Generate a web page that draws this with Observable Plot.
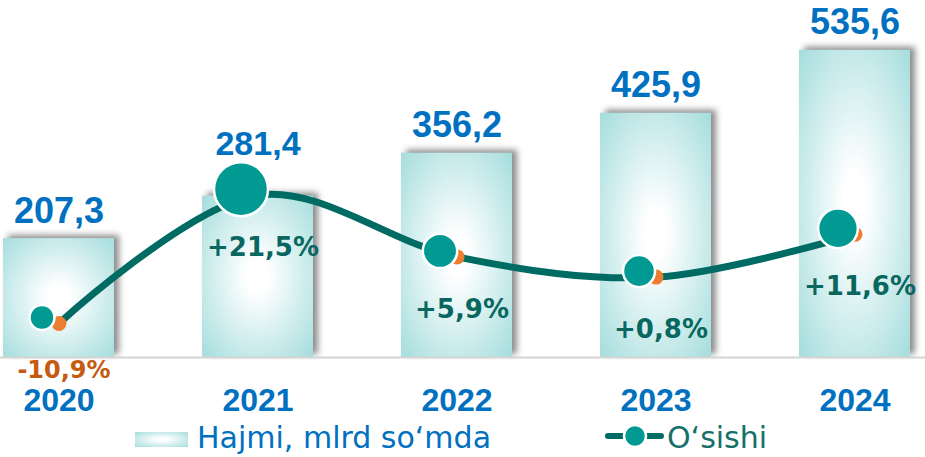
<!DOCTYPE html>
<html>
<head>
<meta charset="utf-8">
<script src="https://cdn.jsdelivr.net/npm/d3@7"></script>
<script src="https://cdn.jsdelivr.net/npm/@observablehq/plot@0.6"></script>
<style>
  body { margin: 0; background: #ffffff; }
  #chart svg, #legend svg { display: block; }
  #chart g[aria-label="bar"] rect { filter: drop-shadow(5px -3px 3px rgba(0,0,0,0.45)); }
</style>
</head>
<body>
<div id="chart"></div>
<div id="legend"></div>
<script>
// ---- data ----
const years = ["2020", "2021", "2022", "2023", "2024"];
const volume = [207.3, 281.4, 356.2, 425.9, 535.6];   // Hajmi, mlrd so‘mda
const growth = [-10.9, 21.5, 5.9, 0.8, 11.6];        // O‘sishi, %
const volumeAxis = [0, 600];                          // primary axis domain
const growthAxis = [-19.5, 67.4];                     // secondary axis domain
const seriesNames = ["Hajmi, mlrd so‘mda", "O‘sishi"];

// ---- derived table ----
const toPrimary = d3.scaleLinear(growthAxis, volumeAxis);
const fmt = v => v.toFixed(1).replace(".", ",");
const rows = years.map((year, i) => ({
  year,
  volume: volume[i],
  growth: growth[i],
  gy: toPrimary(growth[i]),
  vLabel: fmt(volume[i]),
  gLabel: (growth[i] > 0 ? "+" : "") + fmt(growth[i]) + "%"
}));

const BLUE = "#0070c0", LINE = "#006b63", DOT = "#009a93", ORANGE = "#ed7d31",
      DARKTEAL = "#0a675f", DARKORANGE = "#c55a11";
const ARIAL = "Liberation Sans, Arial, sans-serif";
const WIDE = "DejaVu Sans, sans-serif";

const chart = Plot.plot({
  width: 925,
  height: 420,
  marginTop: 0, marginRight: 0, marginBottom: 0, marginLeft: 0,
  x: { domain: years, range: [0, 914], paddingInner: 0.44, paddingOuter: 0.015, axis: null },
  y: { domain: volumeAxis, range: [357, 357 - 600 * 0.5735], axis: null },
  r: { type: "pow", exponent: 1.7, domain: d3.extent(growth), range: [12.5, 27] },
  style: { background: "transparent", overflow: "visible" },
  marks: [
    Plot.barY(rows, { x: "year", y: "volume", fill: "url(#barGrad)" }),
    Plot.ruleY([0], { stroke: "#d4d4d4", strokeWidth: 2 }),
    Plot.line(rows, { x: "year", y: "gy", curve: "catmull-rom", stroke: LINE, strokeWidth: 7, strokeLinecap: "round" }),
    Plot.dot(rows, { x: "year", y: "gy", r: 7.5, fill: ORANGE }),
    Plot.dot(rows, { x: "year", y: "gy", r: "growth", fill: DOT, stroke: "#ffffff", strokeWidth: 2.5, dx: -17, dy: -6 }),
    // value labels
    Plot.text(rows.filter(d => d.year !== "2021"), {
      x: "year", y: "volume", text: "vLabel", lineAnchor: "bottom", dy: -16,
      fill: BLUE, fontSize: 36, fontWeight: "bold", fontFamily: ARIAL
    }),
    Plot.text(rows.filter(d => d.year === "2021"), {
      x: "year", y: "volume", text: "vLabel", lineAnchor: "bottom", dy: -41,
      fill: BLUE, fontSize: 34, fontWeight: "bold", fontFamily: ARIAL
    }),
    // growth labels
    Plot.text(rows.filter(d => d.growth >= 0), {
      x: "year", y: "gy", text: "gLabel", lineAnchor: "bottom", dy: 61, dx: 5,
      fill: DARKTEAL, fontSize: 26, fontWeight: "bold", fontFamily: WIDE
    }),
    Plot.text(rows.filter(d => d.growth < 0), {
      x: "year", y: "gy", text: "gLabel", lineAnchor: "bottom", dy: 55, dx: 5,
      fill: DARKORANGE, fontSize: 24, fontWeight: "bold", fontFamily: WIDE
    }),
    // category labels
    Plot.text(years, {
      x: d => d, text: d => d, frameAnchor: "bottom", lineAnchor: "bottom", dy: -10,
      fill: BLUE, fontSize: 32, fontWeight: "bold", fontFamily: ARIAL
    })
  ]
});

// gradient for bars
const svg = d3.select(chart);
const defs = svg.insert("defs", ":first-child");
const grad = defs.append("radialGradient").attr("id", "barGrad")
  .attr("cx", "50%").attr("cy", "50%").attr("r", "72%");
grad.append("stop").attr("offset", "0%").attr("stop-color", "#ffffff");
grad.append("stop").attr("offset", "14%").attr("stop-color", "#ffffff");
grad.append("stop").attr("offset", "100%").attr("stop-color", "#a3dcdc");

document.getElementById("chart").appendChild(chart);

// legend below the chart
const leg = d3.select("#legend").append("svg").attr("width", 925).attr("height", 37);
leg.append("rect").attr("x", 135).attr("y", 12).attr("width", 53).attr("height", 15)
  .attr("fill", "url(#barGrad)");
leg.append("text").attr("x", 197).attr("y", 28).text(seriesNames[0])
  .attr("fill", BLUE).attr("font-size", 30).attr("font-family", WIDE);
leg.append("line").attr("x1", 608).attr("x2", 661).attr("y1", 16).attr("y2", 16)
  .attr("stroke", LINE).attr("stroke-width", 6).attr("stroke-linecap", "round");
leg.append("circle").attr("cx", 635).attr("cy", 16).attr("r", 11)
  .attr("fill", DOT).attr("stroke", "#ffffff").attr("stroke-width", 2.5);
leg.append("text").attr("x", 667).attr("y", 28).text(seriesNames[1])
  .attr("fill", "#16706a").attr("font-size", 30).attr("font-family", WIDE);
</script>
</body>
</html>
